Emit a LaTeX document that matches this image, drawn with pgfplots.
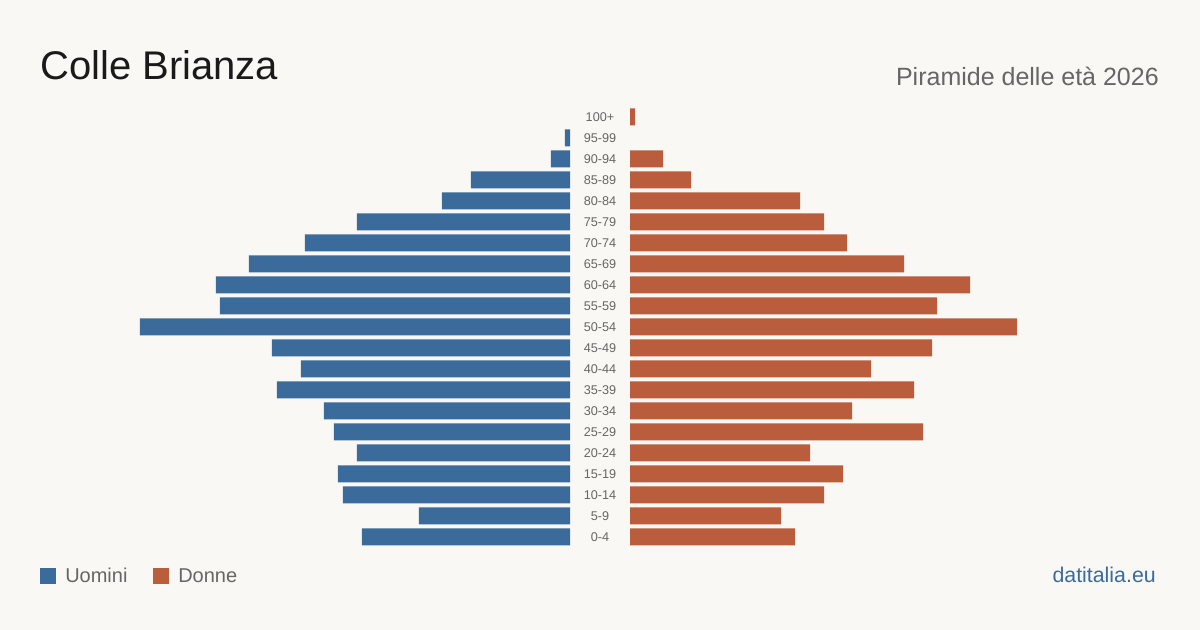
\documentclass[border=0pt]{standalone}
\usepackage{fontspec}
\setmainfont{Liberation Sans}
\usepackage{pgfplots}
\pgfplotsset{compat=1.18}
\definecolor{bg}{HTML}{F9F8F4}
\definecolor{men}{HTML}{3B6B9B}
\definecolor{women}{HTML}{B95D3D}
\definecolor{txt}{HTML}{666666}
\definecolor{ttl}{HTML}{1A1A1A}
\begin{document}
\begin{tikzpicture}
\fill[bg] (0,0) rectangle (900pt,-472.5pt);
\node[anchor=base west, font=\fontsize{30}{36}\selectfont, text=ttl, inner sep=0] at (30pt,-60pt) {Colle Brianza};
\node[anchor=base east, font=\fontsize{18.75}{22}\selectfont, text=txt, inner sep=0] at (869.25pt,-64.5pt) {Piramide delle età 2026};
\begin{axis}[at={(427.5pt,-79.875pt)}, anchor=north east, scale only axis,
  width=330pt, height=330.75pt, xmin=0, xmax=440, x dir=reverse,
  ymin=-0.5, ymax=20.5, hide axis, xbar, bar width=12.75pt]
\addplot[fill=men, draw=none] coordinates {
(208,0) (151,1) (227,2) (232,3) (213,4) (236,5) (246,6) (293,7) (269,8) (298,9)
(430,10) (350,11) (354,12) (321,13) (265,14) (213,15) (128,16) (99,17) (19,18) (5,19)};
\end{axis}
\begin{axis}[at={(472.5pt,-79.875pt)}, anchor=north west, scale only axis,
  width=330pt, height=330.75pt, xmin=0, xmax=440,
  ymin=-0.5, ymax=20.5, xbar, bar width=12.75pt,
  axis line style={draw=none}, xtick=\empty, ytick={0,...,20},
  yticklabels={0-4,5-9,10-14,15-19,20-24,25-29,30-34,35-39,40-44,45-49,50-54,55-59,60-64,65-69,70-74,75-79,80-84,85-89,90-94,95-99,100+},
  major tick length=0pt,
  yticklabel style={anchor=center, xshift=-22.5pt, font=\fontsize{9.5}{12}\selectfont, text=txt}]
\addplot[fill=women, draw=none] coordinates {
(165,0) (151,1) (194,2) (213,3) (180,4) (293,5) (222,6) (284,7) (241,8) (302,9)
(387,10) (307,11) (340,12) (274,13) (217,14) (194,15) (170,16) (61,17) (33,18) (5,20)};
\end{axis}
\fill[men] (30pt,-426pt) rectangle (42pt,-438pt);
\node[anchor=base west, font=\fontsize{15}{18}\selectfont, text=txt, inner sep=0] at (48.75pt,-437.25pt) {Uomini};
\fill[women] (114.75pt,-426pt) rectangle (126.75pt,-438pt);
\node[anchor=base west, font=\fontsize{15}{18}\selectfont, text=txt, inner sep=0] at (133.5pt,-437.25pt) {Donne};
\node[anchor=base east, font=\fontsize{16}{19}\selectfont, text=men, inner sep=0] at (867pt,-437.25pt) {datitalia.eu};
\end{tikzpicture}
\end{document}
